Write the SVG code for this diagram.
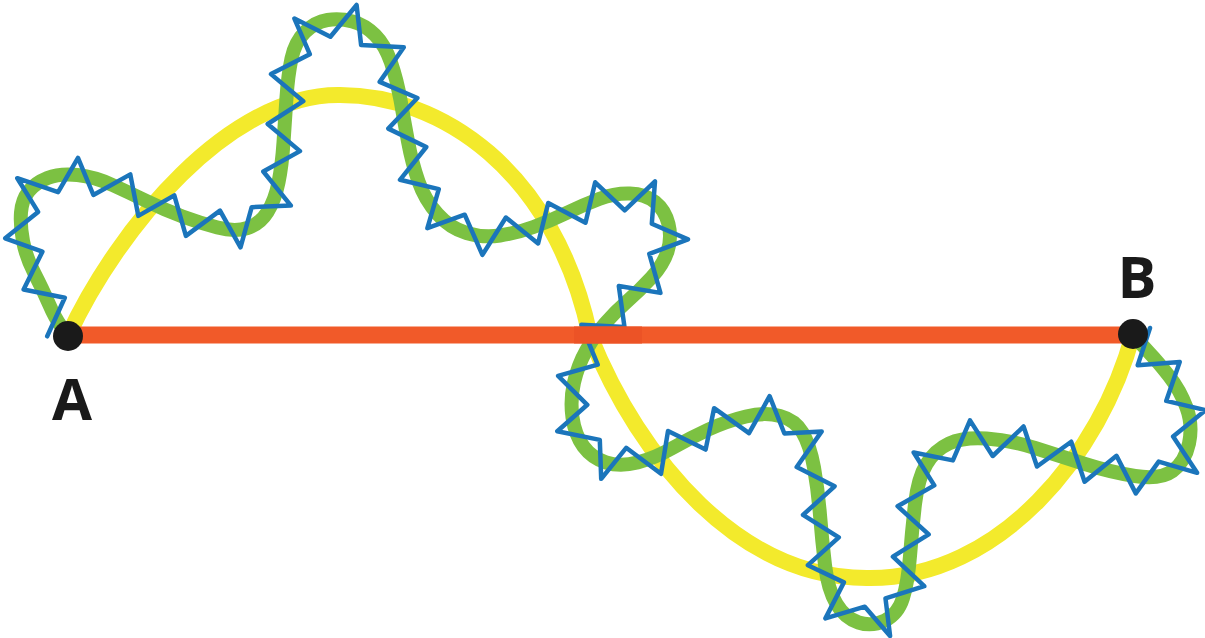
<svg xmlns="http://www.w3.org/2000/svg" width="1205" height="638" viewBox="0 0 1205 638">
<style>
.yellow{fill:none;stroke:#f3ea2c;stroke-width:16;stroke-linecap:butt}
.green{fill:none;stroke:#7cc142;stroke-width:14;stroke-linejoin:round;stroke-linecap:round}
.blue{fill:none;stroke:#1b75bb;stroke-width:4.5;stroke-linejoin:round;stroke-linecap:round}
.red{fill:none;stroke:#f15a29;stroke-width:17}
.dot{fill:#1a1a1a}
.lbl{font-family:"Open Sans","Liberation Sans",sans-serif;font-weight:bold;font-size:58px;fill:#1a1a1a;text-anchor:middle}
</style>
<rect width="1205" height="638" fill="#ffffff"/>
<g id="connectors">
<path id="yellow-path" class="yellow" d="M68,336 C119,226 230,95 338,95 C440,94 555,170 590,336 C640,460 740,580 870,578 C1000,578 1101,454 1133,334"/>
<path id="green-path" class="green" d="M68,336 L61.5,327 Q55,318 49,304 Q43,290 34.5,273.5 Q26,257 23,241 Q20,225 21,212.5 Q22,200 28.5,191.5 Q35,183 47.5,178 Q60,173 77.5,175 Q95,177 112.5,185 Q130,193 147.5,201.5 Q165,210 182.5,216.5 Q200,223 217.5,227.5 Q235,232 247.5,228 Q260,224 267.5,212 Q275,200 278.5,182.5 Q282,165 283.5,142.5 Q285,120 286.5,97.5 Q288,75 291.5,58.5 Q295,42 305,32 Q315,22 327.5,20 Q340,18 352.5,21.5 Q365,25 375,35 Q385,45 391,62.5 Q397,80 400.5,100 Q404,120 408,141.5 Q412,163 418.5,181.5 Q425,200 437.5,214 Q450,228 466.5,233 Q483,238 500,235.5 Q517,233 533.5,227 Q550,221 566.5,213 Q583,205 599,199 Q615,193 630,193.5 Q645,194 655,202 Q665,210 668.5,224 Q672,238 667.5,251.5 Q663,265 651.5,277.5 Q640,290 627.5,301 Q615,312 605,323.5 Q595,335 586.5,350 Q578,365 574,382.5 Q570,400 572.5,417.5 Q575,435 583.5,446.5 Q592,458 606,462.5 Q620,467 637.5,462.5 Q655,458 672.5,448 Q690,438 708.5,429.5 Q727,421 746,416.5 Q765,412 780,416 Q795,420 802.5,432.5 Q810,445 814,467.5 Q818,490 820,515 Q822,540 825,565 Q828,590 836.5,604 Q845,618 858.5,622.5 Q872,627 885,620.5 Q898,614 903,598 Q908,582 910,556 Q912,530 915,504 Q918,478 926.5,464 Q935,450 949,443.5 Q963,437 986.5,438.5 Q1010,440 1035,448 Q1060,456 1085,464 Q1110,472 1135,476 Q1160,480 1172.5,471 Q1185,462 1189,443.5 Q1193,425 1186.5,407.5 Q1180,390 1169,376 Q1158,362 1149,352.5 Q1140,343 1133,334"/>
<polyline id="blue-path" class="blue" points="47.2,336.3 64.8,297.7 23.6,289.5 42.4,251.7 5.2,238.3 38.1,211.9 17.3,178.2 58.1,192.1 78,157.9 93.4,195 130.3,174.4 138.3,215.9 174.3,195.4 185.9,235.9 220,210.6 240.5,247.4 251.7,207.2 290.9,205.6 263.3,171.5 300,151.1 267.7,124 303.3,101.2 271,74.1 309.8,54.2 294.4,18.6 330.4,36.8 356.6,5 361.1,45.1 403.8,47.3 379.7,81.9 417.4,98 388.3,128.6 426.3,147 400,179.8 438.8,189.1 427.4,228.2 464.7,214.7 482.4,254.9 505.9,217.5 538.1,243.4 548.2,203 585.5,222.7 595.2,182.3 624.7,210.3 655,181.4 651.8,223.8 688,239.4 649.3,253.8 660.4,292.9 618.8,286 624.5,327 581.4,324.8 597.7,364.7 558.1,375.8 587.3,404.8 557.3,431.2 599.8,439.9 601.2,478.8 626.2,447.8 661,473.8 668,431 705.6,449.6 714.1,408.2 749,433.2 769.6,396.2 784.4,433.5 821.7,431.4 796.7,467 834.6,486.3 803,514.9 838.8,537.3 807.9,565.2 843.9,582.4 825.4,618.4 864.8,606.7 890.1,636 885.5,598.4 924.3,586.2 892.9,556.7 928.7,534.4 897.6,506.2 934.3,485.4 913.7,452.5 952.9,460.4 970,420.4 992.7,456 1023.6,426.5 1037,466.5 1071.2,441.7 1084.6,481.7 1116.5,455.8 1135.8,493.4 1158.7,461.6 1197.1,472.8 1173.1,436.5 1205.6,410.2 1166.2,400.9 1179.7,362 1137.7,365.3 1150,328"/>
<line id="red-line" class="red" x1="68" y1="335" x2="1133" y2="335"/>
<rect id="red-overlap" x="574" y="326.5" width="68" height="17" fill="#ec5326"/>
</g>
<g id="node-A">
<circle class="dot" cx="68" cy="336" r="15"/>
<text class="lbl" x="72" y="420">A</text>
</g>
<g id="node-B">
<circle class="dot" cx="1133" cy="334" r="15"/>
<text class="lbl" x="1137" y="298">B</text>
</g>
</svg>
